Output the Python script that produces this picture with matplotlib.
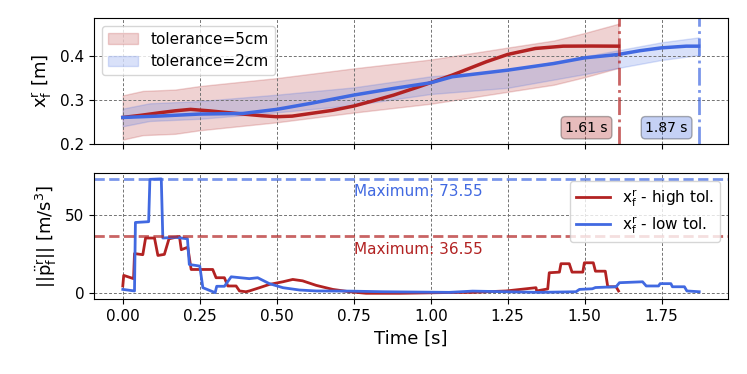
import numpy as np
import matplotlib.pyplot as plt
from matplotlib.patches import Patch

# colours
RED = 'firebrick'
BLUE = 'royalblue'

# top panel: trajectories x_f^r [m]
t_ref_hi = [0.0, 0.065, 0.17, 0.25, 0.5, 0.75, 1.0, 1.25, 1.4, 1.5, 1.61]
ref_hi = [0.260, 0.270, 0.273, 0.281, 0.299, 0.321, 0.341, 0.368, 0.384, 0.401, 0.422]
t_ref_lo = [0.0, 0.087, 0.25, 0.5, 0.75, 1.0, 1.25, 1.5, 1.75, 1.87]
ref_lo = [0.260, 0.272, 0.277, 0.2915, 0.308, 0.333, 0.347, 0.378, 0.410, 0.421]
tol_hi = 0.05
tol_lo = 0.02

t_x_hi = [0.0, 0.06, 0.12, 0.17, 0.22, 0.28, 0.34, 0.39, 0.45, 0.5, 0.55, 0.61, 0.68, 0.75,
          0.81, 0.88, 0.96, 1.07, 1.18, 1.25, 1.34, 1.43, 1.52, 1.61]
x_hi = [0.260, 0.265, 0.2707, 0.275, 0.2783, 0.275, 0.271, 0.2677, 0.264, 0.2617, 0.263, 0.269,
        0.276, 0.2858, 0.297, 0.3106, 0.329, 0.3558, 0.3858, 0.4025, 0.416, 0.4212, 0.4215, 0.4212]
t_x_lo = [0.0, 0.12, 0.25, 0.39, 0.5, 0.61, 0.75, 0.88, 1.0, 1.07, 1.25, 1.4, 1.5, 1.61,
          1.68, 1.75, 1.83, 1.87]
x_lo = [0.260, 0.2632, 0.2677, 0.269, 0.2783, 0.2918, 0.3106, 0.3257, 0.3384, 0.352, 0.367,
        0.382, 0.3948, 0.4025, 0.411, 0.4174, 0.4212, 0.4212]
t_end_hi = 1.61
t_end_lo = 1.87

# bottom panel: jerk norm [m/s^3]
t_j_hi = [0.0, 0.003, 0.035, 0.038, 0.065, 0.074, 0.103, 0.114, 0.135, 0.15, 0.184, 0.19,
          0.211, 0.222, 0.292, 0.303, 0.33, 0.341, 0.368, 0.379, 0.40, 0.411, 0.444, 0.476,
          0.52, 0.552, 0.584, 0.628, 0.682, 0.736, 0.79, 0.9, 1.06, 1.136, 1.245, 1.342,
          1.344, 1.38, 1.385, 1.418, 1.423, 1.45, 1.459, 1.494, 1.499, 1.528, 1.535, 1.567,
          1.575, 1.602, 1.61]
j_hi = [4.7, 11.5, 9.4, 25.5, 24.8, 35.5, 35.5, 24.3, 25.0, 35.0, 36.5, 28.0, 29.6, 15.3,
        15.3, 10.0, 10.0, 4.7, 4.7, 1.5, 1.0, 1.5, 3.6, 5.7, 7.4, 8.9, 8.0, 5.1, 2.5, 1.0,
        0.0, 0.0, 0.5, 0.6, 1.5, 3.6, 1.5, 2.8, 13.2, 13.6, 19.0, 19.0, 13.6, 13.6, 19.6,
        19.6, 14.2, 14.2, 4.2, 4.2, 1.5]
t_j_lo = [0.0, 0.038, 0.041, 0.084, 0.088, 0.125, 0.13, 0.17, 0.21, 0.216, 0.25, 0.26,
          0.30, 0.305, 0.33, 0.352, 0.411, 0.438, 0.476, 0.52, 0.574, 0.628, 0.736, 0.844,
          1.06, 1.136, 1.245, 1.353, 1.472, 1.483, 1.525, 1.535, 1.602, 1.613, 1.688, 1.70,
          1.74, 1.745, 1.78, 1.785, 1.824, 1.832, 1.872]
j_lo = [2.5, 1.5, 45.5, 46.0, 73.2, 73.5, 35.5, 36.0, 35.0, 18.5, 17.5, 3.6, 0.4, 4.5,
        4.5, 10.6, 9.4, 10.0, 6.2, 3.6, 2.1, 1.5, 1.4, 1.0, 0.6, 1.4, 1.0, 0.6, 1.0, 2.5,
        2.9, 3.7, 4.2, 6.8, 7.4, 4.7, 4.7, 6.2, 6.2, 4.2, 4.2, 1.5, 1.0]
max_hi = 36.55
max_lo = 73.55

plt.rcParams['font.size'] = 11

fig = plt.figure(figsize=(7.47, 3.74), dpi=100)
ax1 = fig.add_axes([0.1258, 0.615, 0.8488, 0.337])
ax2 = fig.add_axes([0.1258, 0.2005, 0.8488, 0.3365], sharex=ax1)

grid_kw = dict(linestyle=(0, (3, 2)), linewidth=0.7, color='0.45')

r_hi = np.array(ref_hi)
r_lo = np.array(ref_lo)
ax1.fill_between(t_ref_hi, r_hi - tol_hi, r_hi + tol_hi, color=RED, alpha=0.2)
ax1.fill_between(t_ref_lo, r_lo - tol_lo, r_lo + tol_lo, color=BLUE, alpha=0.2)
ax1.plot(t_x_hi, x_hi, color=RED, lw=2.5)
ax1.plot(t_x_lo, x_lo, color=BLUE, lw=2.5)
ax1.axvline(t_end_hi, color=RED, ls='-.', lw=2, alpha=0.7)
ax1.axvline(t_end_lo, color=BLUE, ls='-.', lw=2, alpha=0.7)
ax1.text(t_end_hi - 0.035, 0.2368, f'{t_end_hi:.2f} s', ha='right', va='center', fontsize=10,
         bbox=dict(boxstyle='round', facecolor=RED, alpha=0.3))
ax1.text(t_end_lo - 0.035, 0.2368, f'{t_end_lo:.2f} s', ha='right', va='center', fontsize=10,
         bbox=dict(boxstyle='round', facecolor=BLUE, alpha=0.3))
ax1.set_ylim(0.2, 0.485)
ax1.set_yticks([0.2, 0.3, 0.4])
ax1.set_ylabel(r'$\mathrm{x}_\mathrm{f}^\mathrm{r}$ [m]', fontsize=13)
ax1.grid(True, **grid_kw)
ax1.tick_params(labelbottom=False)
ax1.legend(handles=[Patch(facecolor=RED, edgecolor=RED, alpha=0.2, label='tolerance=5cm'),
                    Patch(facecolor=BLUE, edgecolor=BLUE, alpha=0.2, label='tolerance=2cm')],
           loc='upper left', fontsize=11)

ax2.plot(t_j_hi, j_hi, color=RED, lw=2, label=r'$\mathrm{x}_\mathrm{f}^\mathrm{r}$ - high tol.')
ax2.plot(t_j_lo, j_lo, color=BLUE, lw=2, label=r'$\mathrm{x}_\mathrm{f}^\mathrm{r}$ - low tol.')
ax2.axhline(max_hi, color=RED, ls='--', lw=2, alpha=0.7)
ax2.axhline(max_lo, color=BLUE, ls='--', lw=2, alpha=0.7)
ax2.text(0.75, max_lo - 3.5, f'Maximum: {max_lo:.2f}', color=BLUE, va='top', fontsize=11)
ax2.text(0.75, max_hi - 3.5, f'Maximum: {max_hi:.2f}', color=RED, va='top', fontsize=11)
ax2.set_ylabel(r'$||\ddot{\mathrm{p}}_\mathrm{f}^\mathrm{r}||$ [m/s$^3$]', fontsize=13)
ax2.set_xlabel('Time [s]', fontsize=13)
ax2.set_yticks([0, 50])
ax2.set_xticks([0.0, 0.25, 0.5, 0.75, 1.0, 1.25, 1.5, 1.75])
ax2.grid(True, **grid_kw)
ax2.legend(loc='upper right', fontsize=11, handlelength=2.2, labelspacing=0.35)

fig.savefig('out.png', dpi=100)
